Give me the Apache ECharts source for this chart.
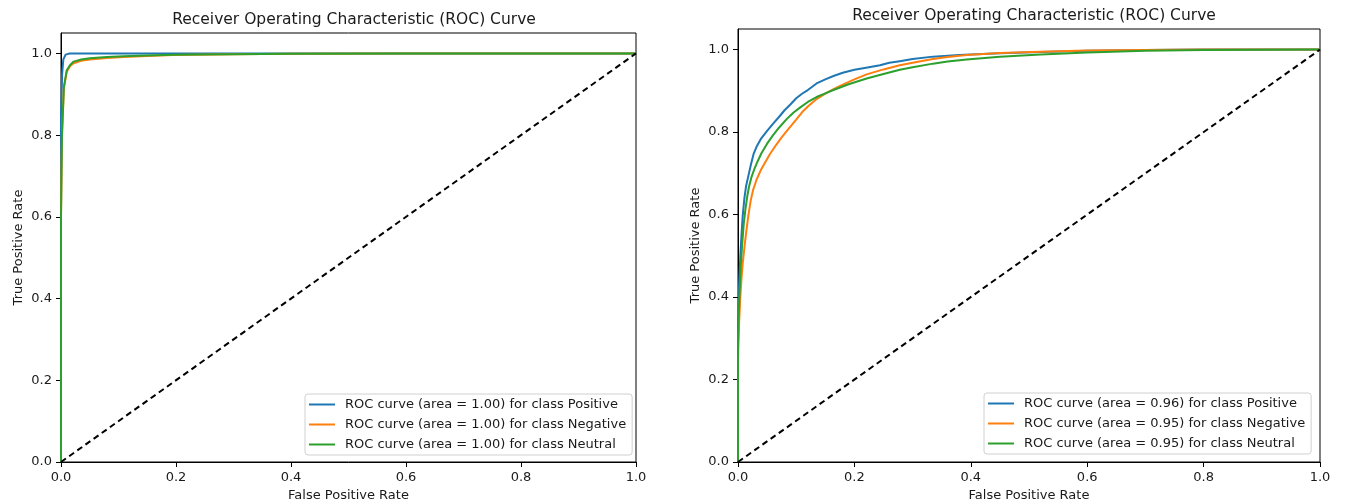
<!DOCTYPE html>
<html>
<head>
<meta charset="utf-8">
<script src="https://cdn.jsdelivr.net/npm/echarts@6/dist/echarts.min.js"></script>
<style>html,body{margin:0;padding:0;background:#fff;}#c{width:1345px;height:504px;}</style>
</head>
<body>
<div id="c"></div>
<script>
const chartTitle = 'Receiver Operating Characteristic (ROC) Curve';
const xName = 'False Positive Rate';
const yName = 'True Positive Rate';
const xTicks = [0, 0.2, 0.4, 0.6, 0.8, 1.0];
const yTicks = [0, 0.2, 0.4, 0.6, 0.8, 1.0];
const classes = ['Positive', 'Negative', 'Neutral'];
const colors = ['#1f77b4', '#ff7f0e', '#2ca02c'];
const areasLeft = ['1.00', '1.00', '1.00'];
const areasRight = ['0.96', '0.95', '0.95'];
const diagonal = [[0, 0], [1, 1]];

// Left panel curves [fpr, tpr]
const leftPositive = [[0,0],[0,0.85],[0.002,0.95],[0.004,0.985],[0.008,0.997],[0.015,1.0],[1,1]];
const leftNegative = [[0,0],[0,0.6],[0.0017,0.8],[0.005,0.915],[0.01,0.955],[0.016,0.969],[0.022,0.976],[0.035,0.982],[0.05,0.985],[0.08,0.989],[0.108,0.991],[0.15,0.994],[0.195,0.996],[0.3,0.998],[0.4,0.999],[0.6,1],[1,1]];
const leftNeutral = [[0,0],[0,0.6],[0.0017,0.8],[0.005,0.918],[0.01,0.959],[0.016,0.972],[0.022,0.98],[0.035,0.985],[0.05,0.988],[0.08,0.991],[0.108,0.993],[0.15,0.995],[0.195,0.997],[0.3,0.998],[0.4,0.999],[0.6,1],[1,1]];

// Right panel curves [fpr, tpr]
const rightPositive = [[0,0],[0,0.3],[0.001,0.38],[0.002,0.43],[0.004,0.5],[0.006,0.55],[0.008,0.595],[0.011,0.64],[0.014,0.67],[0.018,0.695],[0.022,0.72],[0.027,0.748],[0.032,0.765],[0.04,0.785],[0.05,0.803],[0.06,0.82],[0.07,0.836],[0.08,0.853],[0.09,0.867],[0.1,0.882],[0.11,0.893],[0.12,0.902],[0.135,0.918],[0.15,0.928],[0.164,0.936],[0.18,0.944],[0.2,0.951],[0.22,0.956],[0.244,0.962],[0.26,0.968],[0.278,0.972],[0.3,0.977],[0.335,0.983],[0.38,0.987],[0.45,0.991],[0.52,0.994],[0.6,0.997],[0.7,0.999],[0.8,1],[1,1]];
const rightNegative = [[0,0],[0,0.25],[0.002,0.34],[0.004,0.4],[0.006,0.445],[0.008,0.48],[0.011,0.52],[0.014,0.556],[0.018,0.6],[0.022,0.635],[0.026,0.66],[0.032,0.685],[0.04,0.71],[0.048,0.73],[0.055,0.747],[0.065,0.768],[0.075,0.787],[0.085,0.805],[0.1,0.83],[0.11,0.848],[0.12,0.862],[0.135,0.88],[0.15,0.893],[0.165,0.905],[0.18,0.915],[0.2,0.928],[0.221,0.94],[0.25,0.952],[0.278,0.962],[0.3,0.968],[0.335,0.977],[0.36,0.982],[0.393,0.987],[0.45,0.992],[0.52,0.995],[0.6,0.998],[0.7,0.999],[0.8,1],[1,1]];
const rightNeutral = [[0,0],[0,0.28],[0.001,0.35],[0.003,0.42],[0.005,0.48],[0.007,0.525],[0.01,0.58],[0.013,0.615],[0.016,0.645],[0.019,0.668],[0.023,0.69],[0.028,0.71],[0.034,0.73],[0.04,0.748],[0.05,0.772],[0.06,0.792],[0.07,0.81],[0.084,0.832],[0.095,0.847],[0.107,0.86],[0.12,0.873],[0.135,0.885],[0.15,0.894],[0.164,0.902],[0.19,0.916],[0.221,0.93],[0.25,0.941],[0.278,0.951],[0.3,0.957],[0.335,0.966],[0.36,0.971],[0.393,0.976],[0.45,0.983],[0.52,0.988],[0.6,0.993],[0.7,0.997],[0.8,0.999],[1,1]];

const FONT = 'DejaVu Sans';
const TXT = '#1a1a1a';
const FS = 13;

function xAxisFor(gi) {
  return {
    type: 'value', gridIndex: gi, min: 0, max: 1, interval: 0.2,
    name: xName, nameLocation: 'middle', nameGap: 27,
    nameTextStyle: { fontFamily: FONT, fontSize: FS, color: TXT },
    axisLine: { show: true, onZero: false, lineStyle: { color: '#000', width: 1 } },
    axisTick: { show: true, inside: false, length: 5, lineStyle: { color: '#000' }, customValues: xTicks },
    axisLabel: { fontFamily: FONT, fontSize: FS, color: TXT, margin: 9, customValues: xTicks, formatter: v => v.toFixed(1) },
    splitLine: { show: false }
  };
}
function yAxisFor(gi) {
  return {
    type: 'value', gridIndex: gi, min: 0, max: 1.05,
    name: yName, nameLocation: 'middle', nameGap: 36, nameRotate: 90,
    nameTextStyle: { fontFamily: FONT, fontSize: FS, color: TXT },
    axisLine: { show: true, onZero: false, lineStyle: { color: '#000', width: 1 } },
    axisTick: { show: true, inside: false, length: 5, lineStyle: { color: '#000' }, customValues: yTicks },
    axisLabel: { fontFamily: FONT, fontSize: FS, color: TXT, margin: 9, customValues: yTicks, formatter: v => v.toFixed(1) },
    splitLine: { show: false }
  };
}
function curve(name, data, color, gi) {
  return {
    type: 'line', name: name, xAxisIndex: gi, yAxisIndex: gi, data: data,
    showSymbol: false, symbol: 'none', smooth: false, animation: false,
    lineStyle: { color: color, width: 2 }, itemStyle: { color: color }
  };
}
function diag(gi) {
  return {
    type: 'line', name: 'diag' + gi, xAxisIndex: gi, yAxisIndex: gi, data: diagonal,
    showSymbol: false, symbol: 'none', animation: false, silent: true,
    lineStyle: { color: '#000', width: 2, type: [6, 4] }
  };
}
function legendFor(names, left, top) {
  return {
    orient: 'vertical', left: left, top: top, data: names,
    icon: 'rect', itemWidth: 26, itemHeight: 2, itemGap: 5,
    padding: [3, 6, 3, 4],
    borderColor: '#d0d0d0', borderWidth: 1, borderRadius: 3, backgroundColor: '#fff',
    textStyle: { fontFamily: FONT, fontSize: FS, color: TXT, lineHeight: 15, padding: [0, 0, 0, 5] }
  };
}

const leftNames = classes.map((c, i) => 'ROC curve (area = ' + areasLeft[i] + ') for class ' + c);
const rightNames = classes.map((c, i) => 'ROC curve (area = ' + areasRight[i] + ') for class ' + c);
const leftData = [leftPositive, leftNegative, leftNeutral];
const rightData = [rightPositive, rightNegative, rightNeutral];

const series = [];
classes.forEach((c, i) => series.push(curve(leftNames[i], leftData[i], colors[i], 0)));
series.push(diag(0));
classes.forEach((c, i) => series.push(curve(rightNames[i], rightData[i], colors[i], 1)));
series.push(diag(1));

const chart = echarts.init(document.getElementById('c'), null, { renderer: 'canvas' });
chart.setOption({
  backgroundColor: '#fff',
  animation: false,
  textStyle: { fontFamily: FONT },
  title: [
    { text: chartTitle, left: 349, top: 7, textAlign: 'center', textStyle: { fontFamily: FONT, fontSize: 15.5, fontWeight: 'normal', color: TXT } },
    { text: chartTitle, left: 1029, top: 3, textAlign: 'center', textStyle: { fontFamily: FONT, fontSize: 15.5, fontWeight: 'normal', color: TXT } }
  ],
  grid: [
    { left: 61, top: 33, width: 575, height: 429, show: true, borderColor: '#000', borderWidth: 1, containLabel: false, outerBoundsMode: 'none' },
    { left: 738, top: 29, width: 582, height: 433, show: true, borderColor: '#000', borderWidth: 1, containLabel: false, outerBoundsMode: 'none' }
  ],
  xAxis: [xAxisFor(0), xAxisFor(1)],
  yAxis: [yAxisFor(0), yAxisFor(1)],
  legend: [legendFor(leftNames, 305, 394), legendFor(rightNames, 984, 393)],
  series: series
});
</script>
</body>
</html>
